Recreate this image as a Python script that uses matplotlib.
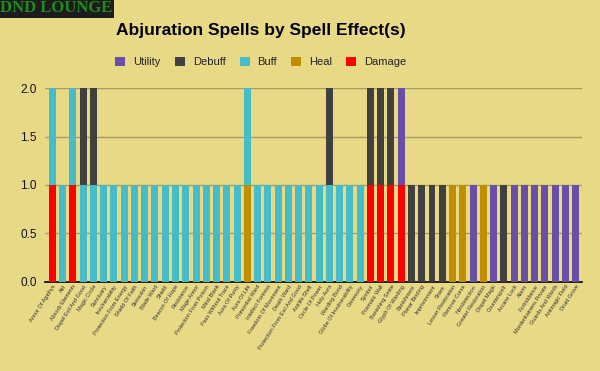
import matplotlib
matplotlib.use("Agg")
import matplotlib.pyplot as plt
from matplotlib.patches import Patch
import numpy as np

spells = ["Armor Of Agathys", "Aid", "Absorb Elements", "Dispel Evil And Good", "Magic Circle",
          "Sanctuary", "Invulnerability", "Protection From Energy", "Shield Of Faith", "Stoneskin",
          "Blade Ward", "Shield", "Beacon Of Hope", "Resistance", "Mage Armor",
          "Protection From Poison", "Mind Blank", "Pass Without Trace", "Aura Of Purity", "Aura Of Life",
          "Primordial Ward", "Intellect Fortress", "Freedom Of Movement", "Death Ward",
          "Protection From Evil And Good", "Antilife Shell", "Circle Of Power", "Holy Aura",
          "Warding Bond", "Globe Of Invulnerability", "Ceremony", "Symbol", "Prismatic Wall",
          "Banishing Smite", "Glyph Of Warding", "Banishment", "Planar Binding", "Imprisonment",
          "Snare", "Lesser Restoration", "Remove Curse", "Nondetection", "Greater Restoration",
          "Dispel Magic", "Counterspell", "Arcane Lock", "Alarm", "Forbiddance",
          "Mordenkainens Private", "Guards And Wards", "Antimagic Field", "Druid Grove"]

damage  = [1,0,1,0,0, 0,0,0,0,0, 0,0,0,0,0, 0,0,0,0,0, 0,0,0,0,0, 0,0,0,0,0, 0,1,1,1,1, 0,0,0,0,0, 0,0,0,0,0, 0,0,0,0,0, 0,0]
heal    = [0,0,0,0,0, 0,0,0,0,0, 0,0,0,0,0, 0,0,0,0,1, 0,0,0,0,0, 0,0,0,0,0, 0,0,0,0,0, 0,0,0,0,1, 1,0,1,0,0, 0,0,0,0,0, 0,0]
buff    = [1,1,1,1,1, 1,1,1,1,1, 1,1,1,1,1, 1,1,1,1,1, 1,1,1,1,1, 1,1,1,1,1, 1,0,0,0,0, 0,0,0,0,0, 0,0,0,0,0, 0,0,0,0,0, 0,0]
debuff  = [0,0,0,1,1, 0,0,0,0,0, 0,0,0,0,0, 0,0,0,0,0, 0,0,0,0,0, 0,0,1,0,0, 0,1,1,1,0, 1,1,1,1,0, 0,0,0,0,1, 0,0,0,0,0, 0,0]
utility = [0,0,0,0,0, 0,0,0,0,0, 0,0,0,0,0, 0,0,0,0,0, 0,0,0,0,0, 0,0,0,0,0, 0,0,0,0,1, 0,0,0,0,0, 0,1,0,1,0, 1,1,1,1,1, 1,1]

series = [("Damage", damage, "#ff0000"), ("Heal", heal, "#bf8f00"),
          ("Buff", buff, "#46bcc8"), ("Debuff", debuff, "#404040"),
          ("Utility", utility, "#6a4fa6")]

bg = "#e8d986"
fig = plt.figure(figsize=(6, 3.71), dpi=100, facecolor=bg)
ax = fig.add_axes([0.075, 0.2399, 0.895, 0.5229], facecolor=bg)

x = np.arange(len(spells))
bottom = np.zeros(len(spells))
for name, vals, col in series:
    v = np.array(vals, dtype=float)
    ax.bar(x, v, 0.68, bottom=bottom, color=col, zorder=3, linewidth=0)
    bottom += v

ax.set_xlim(-0.72, len(spells) - 0.38)
ax.set_ylim(0, 2.0)
ax.set_yticks([0, 0.5, 1.0, 1.5, 2.0])
ax.set_yticklabels(["0.0", "0.5", "1.0", "1.5", "2.0"], fontsize=8.5, family="Liberation Sans", color="#111111")
ax.yaxis.grid(True, color="#a89c60", linewidth=1, zorder=0)
ax.tick_params(axis="y", length=0, pad=6)
ax.tick_params(axis="x", length=0, pad=1.5)
for s in ["top", "right", "left"]:
    ax.spines[s].set_visible(False)
ax.spines["bottom"].set_color("black")
ax.spines["bottom"].set_linewidth(1.2)
ax.spines["bottom"].set_zorder(2)
ax.set_xticks(x)
ax.set_xticklabels(spells, rotation=57, ha="right", va="top", rotation_mode="anchor",
                   fontsize=4, family="Liberation Sans", color="#333333")

fig.text(0.435, 0.919, "Abjuration Spells by Spell Effect(s)", ha="center", va="center",
         fontsize=12.5, fontweight="bold", family="Liberation Sans", color="black")

handles = [Patch(facecolor=c, label=n) for n, _, c in series[::-1]]
fig.legend(handles=handles, loc="center", bbox_to_anchor=(0.435, 0.833), ncol=5, frameon=False,
           prop={"family": "Liberation Sans", "size": 8}, handlelength=0.9, handleheight=0.9,
           handletextpad=0.72, columnspacing=1.26, labelcolor="#222222")

fig.text(0, 1, "DND LOUNGE", ha="left", va="top", fontsize=12, fontweight="bold",
         family="Liberation Serif", color="#1e8c1e",
         bbox=dict(boxstyle="square,pad=0.12", facecolor="#1c1c1c", edgecolor="none"))

fig.savefig("out.png", dpi=100, facecolor=bg)
